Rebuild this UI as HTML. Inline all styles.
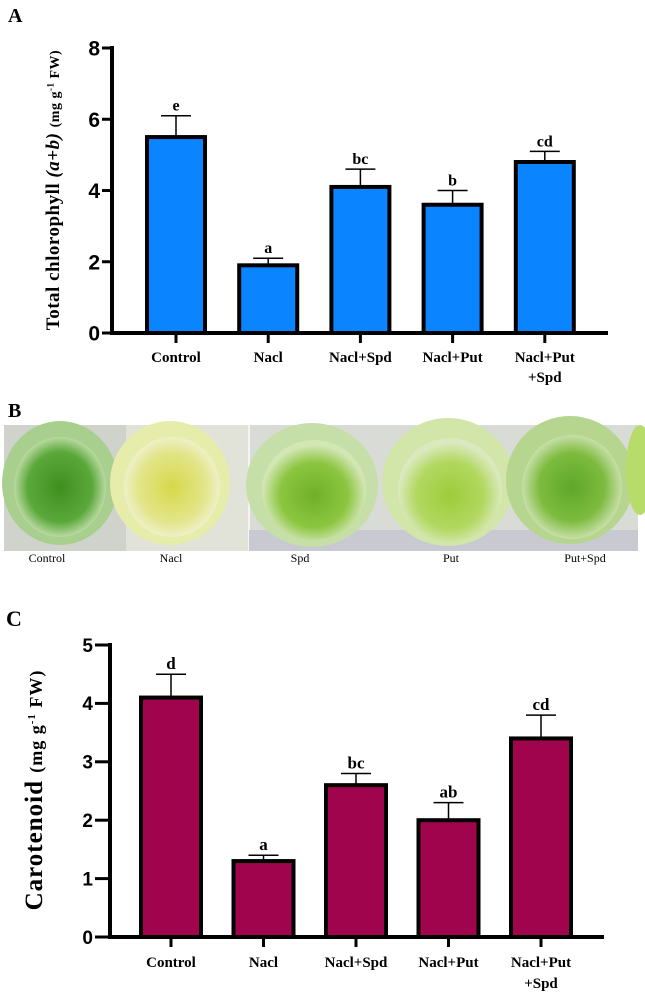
<!DOCTYPE html>
<html><head><meta charset="utf-8"><style>
html,body{margin:0;padding:0;background:#fff;}
svg{display:block;}
.tick{font-family:"Liberation Sans",sans-serif;font-weight:bold;}
.cat{font-family:"Liberation Serif",serif;font-weight:bold;font-size:15px;}
.let{font-family:"Liberation Serif",serif;font-weight:bold;}
.pl{font-family:"Liberation Serif",serif;font-size:12px;}
</style></head><body>
<svg id="fig" width="645" height="994" viewBox="0 0 645 994">
<defs>
<radialGradient id="gC" cx="50%" cy="50%" r="50%"><stop offset="0" stop-color="#3f8f1f"/><stop offset="0.7" stop-color="#5aa83a"/><stop offset="1" stop-color="#b9d9a0"/></radialGradient>
<radialGradient id="gN" cx="50%" cy="50%" r="50%"><stop offset="0" stop-color="#d6d84a"/><stop offset="0.7" stop-color="#e3e58a"/><stop offset="1" stop-color="#eef0c8"/></radialGradient>
<radialGradient id="gS" cx="50%" cy="55%" r="50%"><stop offset="0" stop-color="#6fb028"/><stop offset="0.65" stop-color="#8cc640"/><stop offset="1" stop-color="#d3e6b5"/></radialGradient>
<radialGradient id="gP" cx="50%" cy="55%" r="50%"><stop offset="0" stop-color="#9ccc3a"/><stop offset="0.65" stop-color="#b2d860"/><stop offset="1" stop-color="#dbe9be"/></radialGradient>
<radialGradient id="gPS" cx="50%" cy="50%" r="50%"><stop offset="0" stop-color="#5ea82a"/><stop offset="0.65" stop-color="#7dbb3e"/><stop offset="1" stop-color="#c8dfa8"/></radialGradient>
</defs>
<text class="let" x="8" y="22" font-size="20">A</text>
<g id="chartA"></g>
<text class="let" x="8" y="417" font-size="20">B</text>
<g id="photo">
  <rect x="4" y="425" width="634" height="126" fill="#d9dbd6"/>
  <rect x="4" y="425" width="122" height="126" fill="#cfd3cb"/>
  <rect x="126" y="425" width="123" height="126" fill="#e2e3d8"/>
  <line x1="249" y1="425" x2="249" y2="551" stroke="#f4f4f4" stroke-width="2"/>
  <rect x="249" y="530" width="389" height="21" fill="#c9c9d2"/>
  <ellipse cx="60" cy="483" rx="58" ry="62" fill="#a9cf8e"/>
  <ellipse cx="60" cy="487" rx="46" ry="50" fill="url(#gC)"/>
  <ellipse cx="170" cy="483" rx="60" ry="62" fill="#e6ecaa"/>
  <ellipse cx="172" cy="487" rx="48" ry="50" fill="url(#gN)"/>
  <ellipse cx="312" cy="485" rx="66" ry="62" fill="#c6dfa8"/>
  <ellipse cx="314" cy="490" rx="52" ry="50" fill="url(#gS)"/>
  <ellipse cx="448" cy="482" rx="66" ry="64" fill="#d1e6a8"/>
  <ellipse cx="450" cy="490" rx="52" ry="52" fill="url(#gP)"/>
  <ellipse cx="570" cy="480" rx="64" ry="64" fill="#b6d58e"/>
  <ellipse cx="572" cy="487" rx="50" ry="52" fill="url(#gPS)"/>
  <ellipse cx="640" cy="470" rx="14" ry="45" fill="#b8dc6a"/>
</g>
<text class="pl" x="47" y="562" text-anchor="middle">Control</text>
<text class="pl" x="171" y="562" text-anchor="middle">Nacl</text>
<text class="pl" x="300" y="562" text-anchor="middle">Spd</text>
<text class="pl" x="451" y="562" text-anchor="middle">Put</text>
<text class="pl" x="585" y="562" text-anchor="middle">Put+Spd</text>
<text class="let" x="6" y="626" font-size="22">C</text>
<g id="chartC"></g>
</svg>
<script>
const categoriesA = [["Control"],["Nacl"],["Nacl+Spd"],["Nacl+Put"],["Nacl+Put","+Spd"]];
const valuesA = [5.5, 1.9, 4.1, 3.6, 4.8];
const errorsA = [0.6, 0.2, 0.5, 0.4, 0.3];
const lettersA = ["e","a","bc","b","cd"];
const ticksA = [0, 2, 4, 6, 8];

const categoriesC = [["Control"],["Nacl"],["Nacl+Spd"],["Nacl+Put"],["Nacl+Put","+Spd"]];
const valuesC = [4.1, 1.3, 2.6, 2.0, 3.4];
const errorsC = [0.4, 0.1, 0.2, 0.3, 0.4];
const lettersC = ["d","a","bc","ab","cd"];
const ticksC = [0, 1, 2, 3, 4, 5];

const NS = "http://www.w3.org/2000/svg";
function mk(parent, tag, attrs){ const e=document.createElementNS(NS,tag); for(const k in attrs) e.setAttribute(k,attrs[k]); parent.appendChild(e); return e; }

function draw(g, cfg, cats, vals, errs, lets, ticks){
  const yMax = ticks[ticks.length-1];
  const y = v => cfg.y0 - (cfg.y0 - cfg.yTop) * v / yMax;
  const x = i => cfg.c0 + i * cfg.step;
  vals.forEach((v,i)=>{
    const top = y(v + errs[i]);
    const el = mk(g,'line',{x1:x(i),x2:x(i),y1:y(v),y2:top,stroke:'#000','stroke-width':1.5});
    
    
    const cap = mk(g,'line',{x1:x(i)-cfg.cap,x2:x(i)+cfg.cap,y1:top,y2:top,stroke:'#000','stroke-width':1.5});
    
    
    const b = mk(g,'rect',{x:x(i)-cfg.bw/2,y:y(v),width:cfg.bw,height:cfg.y0-y(v),fill:cfg.color,stroke:'#000','stroke-width':4});
    
    
    const t = mk(g,'text',{x:x(i),y:top-5,'text-anchor':'middle','class':'let','font-size':cfg.lfs});
    t.textContent = lets[i];
    
    
    const tk = mk(g,'line',{x1:x(i),x2:x(i),y1:cfg.y0,y2:cfg.y0+10,stroke:'#000','stroke-width':3});
    
    
    cats[i].forEach((ln,j)=>{
      const c = mk(g,'text',{x:x(i),y:cfg.catY + j*cfg.catDy,'text-anchor':'middle','class':'cat','font-size':cfg.cfs});
      c.textContent = ln;
      
      
    });
  });
  const ya = mk(g,'line',{x1:cfg.ax,x2:cfg.ax,y1:cfg.yTop-2,y2:cfg.y0+2,stroke:'#000','stroke-width':4});
  
  
  const xa = mk(g,'line',{x1:cfg.ax-2,x2:cfg.xEnd,y1:cfg.y0,y2:cfg.y0,stroke:'#000','stroke-width':4});
  
  
  ticks.forEach(tv=>{
    const l = mk(g,'line',{x1:cfg.ax-cfg.tl,x2:cfg.ax,y1:y(tv),y2:y(tv),stroke:'#000','stroke-width':3});
    
    
    const t = mk(g,'text',{x:cfg.ax-cfg.tl-2,y:y(tv)+cfg.tfs*0.36,'text-anchor':'end','class':'tick','font-size':cfg.tfs});
    t.textContent = tv;
    
    
  });
}

draw(document.getElementById('chartA'),
  {y0:333,yTop:48,ax:112,xEnd:608,c0:176,step:92.2,bw:58,cap:15,color:'#0a84ff',tl:10,tfs:21,lfs:16,cfs:15,catY:362,catDy:20},
  categoriesA, valuesA, errorsA, lettersA, ticksA);
draw(document.getElementById('chartC'),
  {y0:937,yTop:645,ax:110,xEnd:604,c0:171,step:92.5,bw:60,cap:15,color:'#a0044c',tl:15,tfs:19,lfs:17,cfs:16,catY:967,catDy:21},
  categoriesC, valuesC, errorsC, lettersC, ticksC);
</script>
<svg width="0" height="0" style="position:absolute"></svg>
<div style="position:absolute;left:0;top:0;width:645px;height:994px;pointer-events:none;">
  <div style="position:absolute;left:54px;top:190px;transform:translate(-50%,-50%) rotate(-90deg);white-space:nowrap;font-family:'Liberation Serif',serif;font-weight:bold;font-size:19px;letter-spacing:0.5px;">Total chlorophyll <i>(a+b)</i> <span style="font-size:14px">(mg g<sup style="font-size:9px">-1</sup> FW)</span></div>
  <div style="position:absolute;left:35px;top:790px;transform:translate(-50%,-50%) rotate(-90deg);white-space:nowrap;font-family:'Liberation Serif',serif;font-weight:bold;font-size:25px;letter-spacing:1px;">Carotenoid <span style="font-size:18px">(mg g<sup style="font-size:11px">-1</sup> FW)</span></div>
</div>
</body></html>
